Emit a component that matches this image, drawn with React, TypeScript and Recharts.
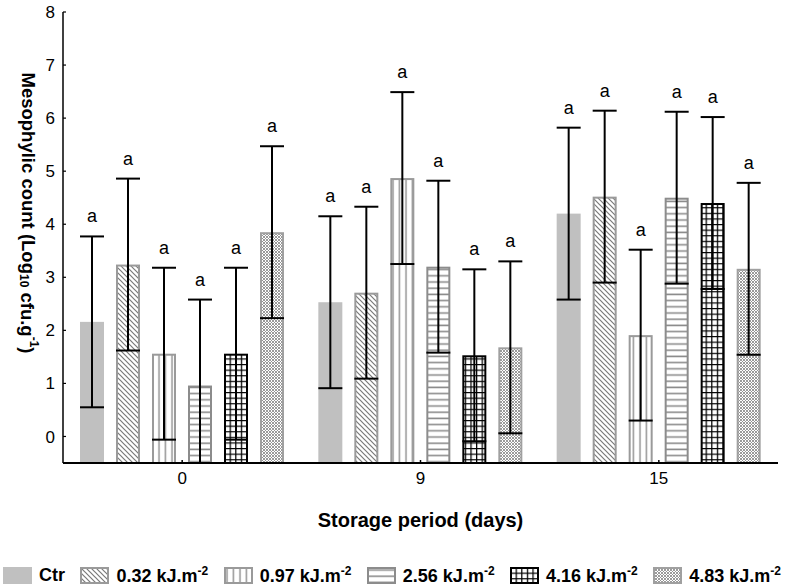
import React from 'react';
import { BarChart, Bar, XAxis, YAxis, Legend, Label } from 'recharts';

// ---------- data ----------
const days = ['0', '9', '15'];
const ctrValues = [2.16, 2.53, 4.2];
const ctrErrors = [1.61, 1.62, 1.62];
const uv032Values = [3.24, 2.71, 4.52];
const uv032Errors = [1.62, 1.62, 1.62];
const uv097Values = [1.56, 4.87, 1.91];
const uv097Errors = [1.62, 1.62, 1.61];
const uv256Values = [0.96, 3.2, 4.5];
const uv256Errors = [1.62, 1.62, 1.62];
const uv416Values = [1.56, 1.53, 4.4];
const uv416Errors = [1.62, 1.62, 1.62];
const uv483Values = [3.85, 1.68, 3.16];
const uv483Errors = [1.62, 1.62, 1.62];
const ctrLetters = ['a', 'a', 'a'];
const uv032Letters = ['a', 'a', 'a'];
const uv097Letters = ['a', 'a', 'a'];
const uv256Letters = ['a', 'a', 'a'];
const uv416Letters = ['a', 'a', 'a'];
const uv483Letters = ['a', 'a', 'a'];
const yTicks = [0, 1, 2, 3, 4, 5, 6, 7, 8];
const seriesLabels = ['Ctr', '0.32 kJ.m', '0.97 kJ.m', '2.56 kJ.m', '4.16 kJ.m', '4.83 kJ.m'];
const seriesSup = ['', '-2', '-2', '-2', '-2', '-2'];

const FONT = '"Liberation Sans", Arial, Helvetica, sans-serif';

const data = days.map((d, i) => ({
  day: d,
  ctr: ctrValues[i], ctrErr: ctrErrors[i], ctrL: ctrLetters[i],
  k032: uv032Values[i], k032Err: uv032Errors[i], k032L: uv032Letters[i],
  k097: uv097Values[i], k097Err: uv097Errors[i], k097L: uv097Letters[i],
  k256: uv256Values[i], k256Err: uv256Errors[i], k256L: uv256Letters[i],
  k416: uv416Values[i], k416Err: uv416Errors[i], k416L: uv416Letters[i],
  k483: uv483Values[i], k483Err: uv483Errors[i], k483L: uv483Letters[i],
}));

type Cfg = { key: string; fill: string; stroke: string | null };
const series: Cfg[] = [
  { key: 'ctr', fill: '#c0c0c0', stroke: null },
  { key: 'k032', fill: 'url(#pDiag)', stroke: '#9a9a9a' },
  { key: 'k097', fill: 'url(#pVert)', stroke: '#9a9a9a' },
  { key: 'k256', fill: 'url(#pHoriz)', stroke: '#8c8c8c' },
  { key: 'k416', fill: 'url(#pGrid)', stroke: '#000000' },
  { key: 'k483', fill: 'url(#pDots)', stroke: '#a0a0a0' },
];

function PatternBar(props: any) {
  const { x, y, width, height, payload, background, cfg } = props;
  const v = payload[cfg.key];
  const unit = v ? height / v : 0;
  const bottom =
    background && typeof background.y === 'number' && typeof background.height === 'number'
      ? background.y + background.height
      : y + height + 0.5 * unit;
  const err = payload[cfg.key + 'Err'];
  const capY = y - err * unit;
  const lowY = y + err * unit;
  const sw = cfg.stroke ? 2 : 0;
  const cx = x + width / 2;
  return (
    <g>
      <rect
        x={x + sw / 2}
        y={y + sw / 2}
        width={Math.max(0, width - sw)}
        height={Math.max(0, bottom - y - sw / 2)}
        fill={cfg.fill}
        stroke={cfg.stroke || 'none'}
        strokeWidth={sw}
      />
      <g stroke="#000" strokeWidth={2}>
        <line x1={cx} y1={capY} x2={cx} y2={Math.min(lowY, bottom)} />
        <line x1={x} y1={capY} x2={x + width} y2={capY} />
        {lowY <= bottom ? <line x1={x} y1={lowY} x2={x + width} y2={lowY} /> : null}
      </g>
      <text x={cx} y={capY - 14} textAnchor="middle" fontSize={18} fontFamily={FONT} fill="#000">
        {payload[cfg.key + 'L']}
      </text>
    </g>
  );
}

const XTitle = (props: any) => {
  const vb = props.viewBox || { x: 63, y: 463, width: 715 };
  return (
    <text x={vb.x + vb.width / 2} y={527} textAnchor="middle" fontSize={20} fontWeight="bold" fontFamily={FONT} fill="#000">
      Storage period (days)
    </text>
  );
};

const YTitle = () => (
  <text
    x={28}
    y={213}
    transform="rotate(90, 28, 213)"
    textAnchor="middle"
    dominantBaseline="central"
    fontSize={18.5}
    fontWeight="bold"
    fontFamily={FONT}
    fill="#000"
  >
    Mesophylic count (Log
    <tspan fontSize={12} dy={4}>10</tspan>
    <tspan dy={-4}> cfu.g</tspan>
    <tspan fontSize={12} dy={-6}>-1</tspan>
    <tspan dy={6}>)</tspan>
  </text>
);

const LegendContent = () => (
  <div
    style={{
      display: 'flex',
      justifyContent: 'space-between',
      alignItems: 'center',
      width: 778,
      fontFamily: FONT,
      fontWeight: 'bold',
      fontSize: 18,
      color: '#000',
    }}
  >
    {series.map((s, i) => (
      <div key={s.key} style={{ display: 'flex', alignItems: 'center' }}>
        <svg width={29} height={17} style={{ marginRight: 7 }}>
          <rect
            x={s.stroke ? 1 : 0}
            y={s.stroke ? 1 : 0}
            width={s.stroke ? 27 : 29}
            height={s.stroke ? 15 : 17}
            fill={s.fill}
            stroke={s.stroke || 'none'}
            strokeWidth={s.stroke ? 2 : 0}
          />
        </svg>
        <span>
          {seriesLabels[i]}
          {seriesSup[i] ? <sup style={{ fontSize: 12 }}>{seriesSup[i]}</sup> : null}
        </span>
      </div>
    ))}
  </div>
);

export default function App() {
  return (
    <div style={{ position: 'absolute', left: 0, top: 0, width: 785, height: 585, background: '#fff' }}>
      <BarChart
        width={785}
        height={585}
        data={data}
        margin={{ top: 12, right: 7, bottom: 52, left: 0 }}
        barCategoryGap={17}
        barGap={12}
      >
        <defs>
          <pattern id="pDiag" width={5} height={5} patternUnits="userSpaceOnUse">
            <rect width={5} height={5} fill="#fff" />
            <path d="M0,0 L5,5 M-1,4 L1,6 M4,-1 L6,1" stroke="#7a7a7a" strokeWidth={1.2} />
          </pattern>
          <pattern id="pVert" width={6.5} height={10} patternUnits="userSpaceOnUse">
            <rect width={6.5} height={10} fill="#fff" />
            <line x1={3} y1={0} x2={3} y2={10} stroke="#9a9a9a" strokeWidth={1.6} />
          </pattern>
          <pattern id="pHoriz" width={10} height={6.2} patternUnits="userSpaceOnUse">
            <rect width={10} height={6.2} fill="#fff" />
            <line x1={0} y1={3} x2={10} y2={3} stroke="#8c8c8c" strokeWidth={1.6} />
          </pattern>
          <pattern id="pGrid" width={5.6} height={5.6} patternUnits="userSpaceOnUse">
            <rect width={5.6} height={5.6} fill="#fff" />
            <path d="M0,0.6 L5.6,0.6 M0.6,0 L0.6,5.6" stroke="#000" strokeWidth={1.3} />
          </pattern>
          <pattern id="pDots" width={3} height={3} patternUnits="userSpaceOnUse">
            <rect width={3} height={3} fill="#fff" />
            <path d="M0,0 L3,3 M3,0 L0,3" stroke="#909090" strokeWidth={0.9} />
          </pattern>
        </defs>
        <XAxis
          dataKey="day"
          height={70}
          tickSize={-3}
          tickMargin={12}
          fontSize={17}
          axisLine={{ stroke: '#000', strokeWidth: 2 }}
          tickLine={{ stroke: '#000', strokeWidth: 1.5 }}
          tick={{ fill: '#000', fontSize: 17, fontFamily: FONT }}
        >
          <Label content={XTitle} />
        </XAxis>
        <YAxis
          type="number"
          domain={[-0.5, 8]}
          ticks={yTicks}
          allowDataOverflow
          width={63}
          tickSize={-3}
          tickMargin={11}
          fontSize={17}
          axisLine={{ stroke: '#000', strokeWidth: 1.5 }}
          tickLine={{ stroke: '#000', strokeWidth: 1.2 }}
          tick={{ fill: '#000', fontSize: 17, fontFamily: FONT }}
        >
          <Label content={YTitle} />
        </YAxis>
        <Legend
          layout="horizontal"
          verticalAlign="middle"
          align="center"
          content={LegendContent}
          wrapperStyle={{ position: 'absolute', left: 3, top: 564, width: 778, height: 20 }}
        />
        {series.map((s) => (
          <Bar
            key={s.key}
            dataKey={s.key}
            name={s.key}
            fill={s.fill}
            isAnimationActive={false}
            shape={(p: any) => <PatternBar {...p} cfg={s} />}
          />
        ))}
      </BarChart>
    </div>
  );
}
